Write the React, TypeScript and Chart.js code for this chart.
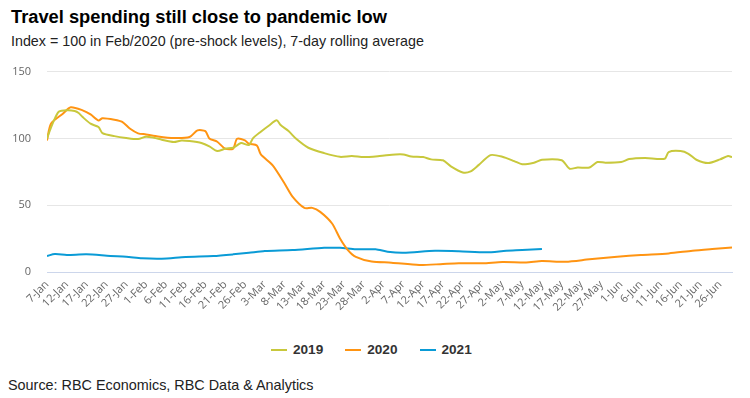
import React, { useEffect, useRef } from "react";
import { Chart, registerables } from "chart.js";

Chart.register(...registerables);

// X tick labels every 5 days starting 7-Jan (day 0)
const xTickLabels = [
  "7-Jan", "12-Jan", "17-Jan", "22-Jan", "27-Jan",
  "1-Feb", "6-Feb", "11-Feb", "16-Feb", "21-Feb", "26-Feb",
  "3-Mar", "8-Mar", "13-Mar", "18-Mar", "23-Mar", "28-Mar",
  "2-Apr", "7-Apr", "12-Apr", "17-Apr", "22-Apr", "27-Apr",
  "2-May", "7-May", "12-May", "17-May", "22-May", "27-May",
  "1-Jun", "6-Jun", "11-Jun", "16-Jun", "21-Jun", "26-Jun",
];
const yTicks = [0, 50, 100, 150];
const lastDay = 173;

// Days since 7-Jan and index values
const days2019 = [0, 1, 2, 3, 5, 7, 8, 9, 11, 13, 14, 17, 20, 23, 25, 27, 29, 32, 34, 36, 39, 41, 43, 45, 47, 49, 51, 52, 54, 56, 58, 59, 61, 63, 66, 70, 74, 77, 80, 84, 88, 90, 92, 95, 97, 100, 102, 105, 107, 109, 112, 115, 118, 120, 123, 125, 130, 132, 134, 137, 139, 141, 145, 147, 151, 156, 157, 160, 162, 164, 167, 170, 172, 173];
const values2019 = [100, 108, 115, 120, 121, 120.5, 119, 116, 111, 108.5, 104, 101.7, 100.3, 99.5, 101.3, 100.5, 99, 97.3, 98.5, 98, 96.5, 94, 90.5, 92.3, 93, 96.5, 95, 100, 105, 109.5, 113.5, 110, 105.5, 99.5, 93, 89, 86.2, 86.8, 86, 86.8, 88, 88, 86.5, 86, 84.3, 83.6, 79, 74.5, 75.3, 80, 87.5, 86.3, 83, 80.6, 81.8, 84, 83.6, 77.3, 78.2, 78.2, 82.3, 81.8, 82.3, 84.5, 85.3, 84.8, 89.8, 90.5, 88.5, 84, 81.5, 84.3, 86.8, 86];

const days2020 = [0, 1, 4, 6, 9, 11, 13, 14, 17, 19, 21, 23, 25, 28, 32, 36, 38, 40, 41, 43, 45, 47, 48, 50, 51, 53, 54, 57, 60, 62, 65, 67, 69, 72, 74, 76, 78, 82, 87, 94, 100, 104, 110, 115, 121, 125, 131, 137, 144, 150, 157, 163, 168, 173];
const values2020 = [98.5, 111, 118.5, 123.3, 121, 118, 113.4, 115.1, 114, 112.4, 107.2, 103.8, 103, 101.5, 100.3, 101, 106, 105.4, 100, 97.5, 92.3, 92.3, 99.7, 98.5, 96, 94.7, 88, 79.8, 66.2, 56.5, 48, 48, 45, 36.3, 25.1, 16.4, 11.3, 7.8, 7, 5.2, 6, 6.5, 6.5, 7.5, 7.2, 8.2, 7.7, 9.5, 11.4, 12.7, 13.9, 15.9, 17.2, 18.4];

const days2021 = [0, 2, 5, 10, 16, 20, 24, 29, 35, 42, 47, 51, 55, 62, 70, 74, 78, 83, 86, 90, 98, 104, 111, 116, 120, 125];
const values2021 = [12, 13.4, 12.8, 13.2, 12, 11.5, 10.3, 10, 11.3, 12, 13.2, 14.4, 15.7, 16.4, 18.1, 18.1, 17, 17, 15.2, 14.4, 15.9, 15.6, 14.7, 15.9, 16.4, 17.2];

const seriesNames = ["2019", "2020", "2021"];
const seriesColors = ["#c8c83c", "#ff9412", "#0a9bd6"];

const toPoints = (xs: number[], ys: number[]) => xs.map((x, i) => ({ x, y: ys[i] }));

export default function App() {
  const canvasRef = useRef<HTMLCanvasElement | null>(null);

  useEffect(() => {
    const canvas = canvasRef.current;
    if (!canvas) return;
    const sets = [
      toPoints(days2019, values2019),
      toPoints(days2020, values2020),
      toPoints(days2021, values2021),
    ];
    const chart = new Chart(canvas, {
      type: "line",
      data: {
        datasets: sets.map((pts, i) => ({
          label: seriesNames[i],
          data: pts,
          borderColor: seriesColors[i],
          backgroundColor: seriesColors[i],
          borderWidth: 2,
          pointRadius: 0,
          tension: 0.25,
        })),
      },
      options: {
        animation: false,
        responsive: false,
        maintainAspectRatio: false,
        layout: { padding: { top: 0, right: 18, bottom: 0, left: 0 } },
        plugins: {
          tooltip: { enabled: false },
          legend: { display: false },
        },
        scales: {
          x: {
            type: "linear",
            min: 0,
            max: lastDay,
            grid: { display: false, drawTicks: false },
            border: { display: true, color: "#ccd6eb", width: 1 },
            ticks: {
              stepSize: 5,
              includeBounds: false,
              autoSkip: false,
              minRotation: 45,
              maxRotation: 45,
              padding: 6,
              color: "#666666",
              font: { family: "'Open Sans', sans-serif", size: 11 },
              callback: (v: any) => {
                const idx = Math.round(Number(v) / 5);
                return Number(v) % 5 === 0 ? xTickLabels[idx] ?? "" : "";
              },
            },
            afterFit: (s: any) => {
              s.height = 63;
            },
          },
          y: {
            min: yTicks[0],
            max: yTicks[yTicks.length - 1],
            grid: {
              drawTicks: false,
              color: (ctx: any) => (ctx.tick && ctx.tick.value === 0 ? "#ccd6eb" : "#e6e6e6"),
            },
            border: { display: false },
            ticks: {
              stepSize: 50,
              padding: 16,
              color: "#666666",
              font: { family: "'Open Sans', sans-serif", size: 11 },
            },
            afterFit: (s: any) => {
              s.width = 47;
            },
          },
        },
      },
    });
    return () => chart.destroy();
  }, []);

  return (
    <div style={{ position: "absolute", left: 0, top: 0, width: 750, height: 398, background: "#fff", overflow: "hidden" }}>
      <div style={{ position: "absolute", left: 11, top: 8, fontFamily: "Arial, 'Liberation Sans', sans-serif", fontWeight: "bold", fontSize: 18.3, lineHeight: "18px", color: "#000", whiteSpace: "nowrap" }}>
        Travel spending still close to pandemic low
      </div>
      <div style={{ position: "absolute", left: 11, top: 34, fontFamily: "Arial, 'Liberation Sans', sans-serif", fontSize: 14.3, lineHeight: "14px", color: "#222", whiteSpace: "nowrap" }}>
        Index = 100 in Feb/2020 (pre-shock levels), 7-day rolling average
      </div>
      <canvas ref={canvasRef} width={750} height={286} style={{ position: "absolute", left: 0, top: 49, width: 750, height: 286 }} />
      <div style={{ position: "absolute", left: 271, top: 343, height: 14, display: "flex", alignItems: "center" }}>
        {seriesNames.map((name, i) => (
          <div key={name} style={{ display: "flex", alignItems: "center", marginRight: i < seriesNames.length - 1 ? 22 : 0 }}>
            <div style={{ width: 16, height: 2, background: seriesColors[i], marginRight: 6 }} />
            <span style={{ fontFamily: "Arial, 'Liberation Sans', sans-serif", fontWeight: "bold", fontSize: 13.6, lineHeight: "14px", color: "#333" }}>{name}</span>
          </div>
        ))}
      </div>
      <div style={{ position: "absolute", left: 8, top: 378, fontFamily: "Arial, 'Liberation Sans', sans-serif", fontSize: 14.4, lineHeight: "14px", color: "#222", whiteSpace: "nowrap" }}>
        Source: RBC Economics, RBC Data &amp; Analytics
      </div>
    </div>
  );
}
